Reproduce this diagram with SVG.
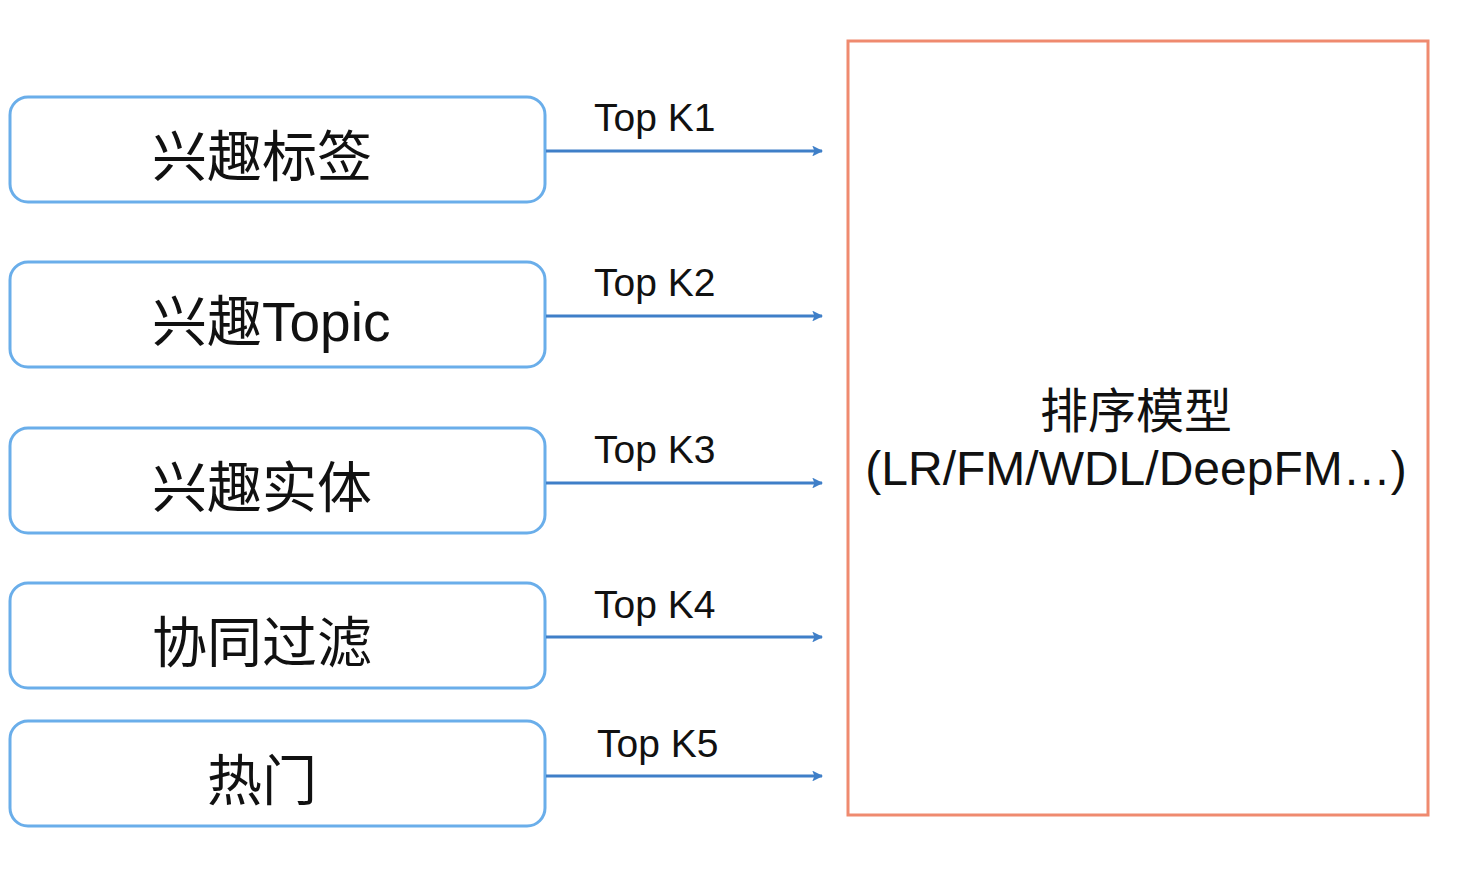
<svg xmlns="http://www.w3.org/2000/svg" width="1458" height="871" viewBox="0 0 1458 871">
<style>
.node rect{fill:#fff;stroke:#6aaeea;stroke-width:3}
.nt{font-family:"Liberation Sans","Noto Sans CJK SC",sans-serif;font-size:55px;fill:#111}
.lbl{font-family:"Liberation Sans","Noto Sans CJK SC",sans-serif;font-size:39px;fill:#111}
.conn line{stroke:#3f7fc8;stroke-width:3}
.mt{font-family:"Liberation Sans","Noto Sans CJK SC",sans-serif;font-size:48px;fill:#111;text-anchor:middle}
</style>
<defs>
<marker id="arr" viewBox="0 0 10 10" refX="9" refY="5" markerWidth="3.6" markerHeight="3.6" orient="auto" markerUnits="strokeWidth">
<path d="M0,0 L10,5 L0,10 L2,5 Z" fill="#3f7fc8"/>
</marker>
</defs>
<rect width="1458" height="871" fill="#fff"/>
<g id="n1" class="node"><rect x="10" y="97" width="535" height="105" rx="18"/><text class="nt" x="152" y="176">兴趣标签</text></g>
<g id="n2" class="node"><rect x="10" y="262" width="535" height="105" rx="18"/><text class="nt" x="152" y="341">兴趣Topic</text></g>
<g id="n3" class="node"><rect x="10" y="428" width="535" height="105" rx="18"/><text class="nt" x="152" y="507">兴趣实体</text></g>
<g id="n4" class="node"><rect x="10" y="583" width="535" height="105" rx="18"/><text class="nt" x="152" y="662">协同过滤</text></g>
<g id="n5" class="node"><rect x="10" y="721" width="535" height="105" rx="18"/><text class="nt" x="207" y="800">热门</text></g>
<g id="model"><rect x="848" y="41" width="580" height="774" fill="#fff" stroke="#ef8a6f" stroke-width="3"/>
<text class="mt" x="1136" y="428">排序模型</text>
<text class="mt" x="1136" y="485">(LR/FM/WDL/DeepFM…)</text></g>
<g id="connectors" class="conn">
<line x1="546" y1="151" x2="822" y2="151" marker-end="url(#arr)"/>
<line x1="546" y1="316" x2="822" y2="316" marker-end="url(#arr)"/>
<line x1="546" y1="483" x2="822" y2="483" marker-end="url(#arr)"/>
<line x1="546" y1="637" x2="822" y2="637" marker-end="url(#arr)"/>
<line x1="546" y1="776" x2="822" y2="776" marker-end="url(#arr)"/>
<text class="lbl" x="594" y="131">Top K1</text>
<text class="lbl" x="594" y="296">Top K2</text>
<text class="lbl" x="594" y="463">Top K3</text>
<text class="lbl" x="594" y="618">Top K4</text>
<text class="lbl" x="597" y="757">Top K5</text>
</g>
</svg>
